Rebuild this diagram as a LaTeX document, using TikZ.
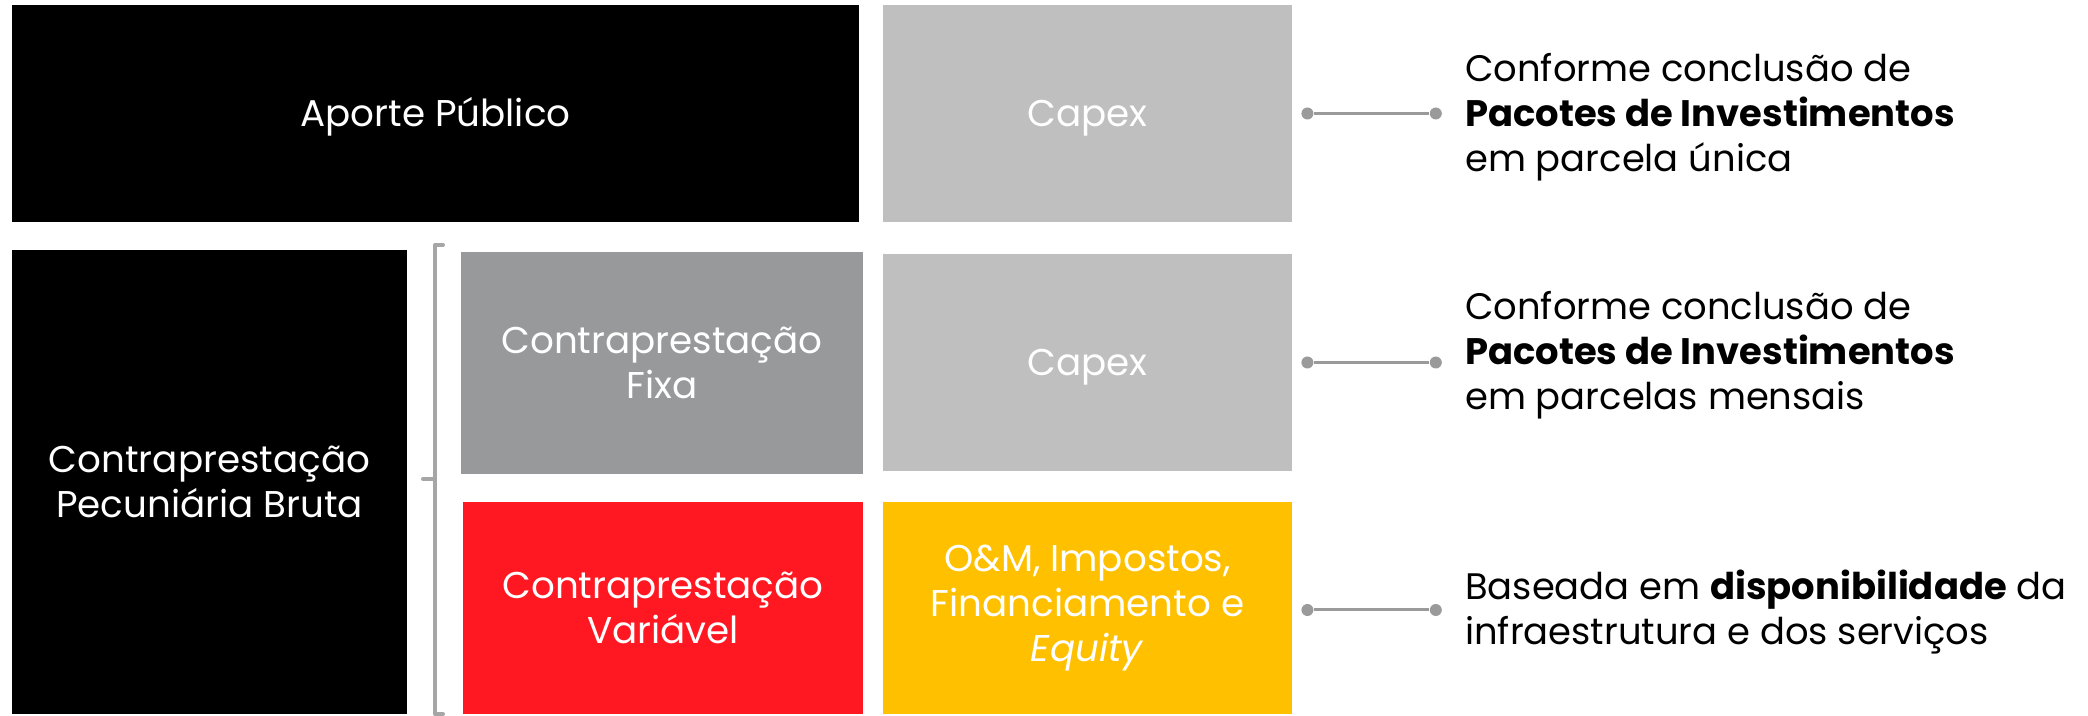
\documentclass[tikz,border=0pt]{standalone}
\usepackage{fontspec}
\setmainfont{Poppins}
\usepackage{xcolor}
\usetikzlibrary{positioning}
\definecolor{capexgray}{HTML}{BFBFBF}
\definecolor{fixagray}{HTML}{98999B}
\definecolor{varred}{HTML}{FF1722}
\definecolor{oemyellow}{HTML}{FFC000}
\definecolor{linkgray}{HTML}{9A9A9A}
\definecolor{bracegray}{HTML}{A6A6A6}

\begin{document}
\begin{tikzpicture}[x=0.1mm,y=-0.1mm,
box/.style={rectangle,inner sep=0pt,text=white,align=center,
    font=\fontsize{10.6pt}{12.8pt}\selectfont},
oneline/.style={text height=3.4mm,text depth=0.8mm},
dot/.style={circle,fill=linkgray,inner sep=0pt,minimum size=1.2mm},
note/.style={inner sep=0pt,align=left,font=\fontsize{10.5pt}{12.8pt}\selectfont}]
\useasboundingbox (0,0) rectangle (2088,716);

% left column
\node (aporte) [box,oneline,fill=black,minimum width=84.7mm,minimum height=21.7mm]
    at (435.5,113.5) {Aporte Público};
\node (bruta) [box,fill=black,minimum width=39.5mm,minimum height=46.4mm]
    at (209.5,482) {Contraprestação\\Pecuniária Bruta};

% split of the gross payment
\node (fixa) [box,fill=fixagray,minimum width=40.2mm,minimum height=22.2mm]
    at (662,363) {Contraprestação\\Fixa};
\node (variavel) [box,fill=varred,minimum width=40mm,minimum height=21.2mm]
    at (663,608) {Contraprestação\\Variável};

% what each part pays for
\node (capexA) [box,oneline,fill=capexgray,minimum width=40.9mm,minimum height=21.7mm]
    at (1087.5,113.5) {Capex};
\node (capexB) [box,oneline,fill=capexgray,minimum width=40.9mm,minimum height=21.7mm]
    at (1087.5,362.5) {Capex};
\node (oem) [box,fill=oemyellow,minimum width=40.9mm,minimum height=21.2mm]
    at (1087.5,608) {O\&M, Impostos,\\Financiamento e\\\textit{Equity}};

% bracket
\draw [bracegray,line width=0.4mm,line cap=round,line join=round]
    (443,245) -- (435,245) -- (435,714) -- (443,714)
    (435,479) -- (423,479);

% connectors and notes
\node (d1a) [dot,right=0.8mm of capexA] {};
\node (d1b) [dot,right=11.5mm of d1a] {};
\draw [linkgray,line width=0.3mm] (d1a) -- (d1b);
\node (n1) [note,right=2.2mm of d1b,yshift=-0.4mm] {Conforme conclusão de\\
    \textbf{Pacotes de Investimentos}\\em parcela única};

\node (d2a) [dot,right=0.8mm of capexB] {};
\node (d2b) [dot,right=11.5mm of d2a] {};
\draw [linkgray,line width=0.3mm] (d2a) -- (d2b);
\node (n2) [note,right=2.2mm of d2b,yshift=0.7mm] {Conforme conclusão de\\
    \textbf{Pacotes de Investimentos}\\em parcelas mensais};

\node (d3a) [dot,right=0.8mm of oem,yshift=-0.2mm] {};
\node (d3b) [dot,right=11.5mm of d3a] {};
\draw [linkgray,line width=0.3mm] (d3a) -- (d3b);
\node (n3) [note,right=2.2mm of d3b,yshift=-0.2mm] {Baseada em \textbf{disponibilidade} da\\
    infraestrutura e dos serviços};
\end{tikzpicture}
\end{document}
